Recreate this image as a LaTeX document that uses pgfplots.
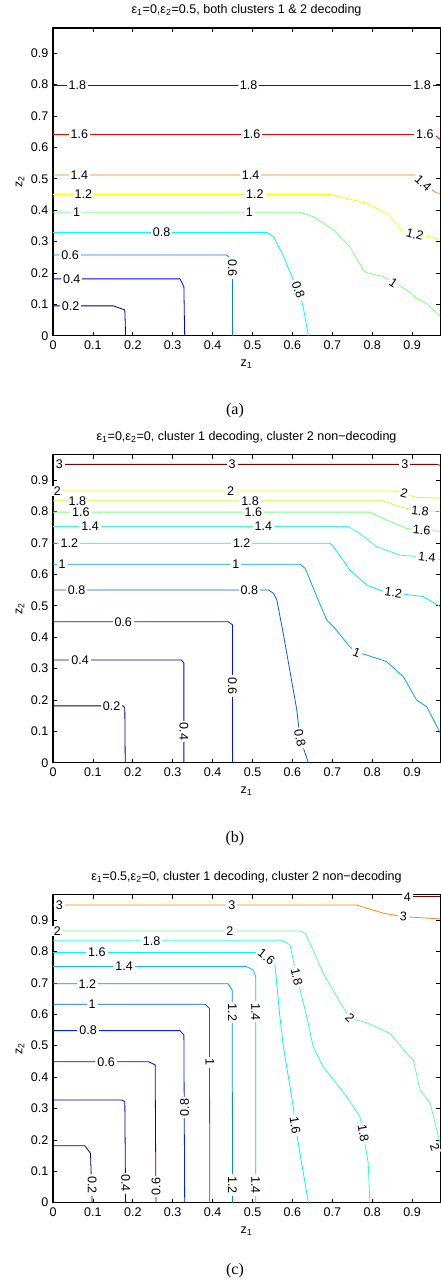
\documentclass[border=0pt]{standalone}
\usepackage{pgfplots}
\pgfplotsset{compat=1.18}
\usepackage{pgfplotstable}
\usepackage{fontspec}
\setmainfont{Liberation Sans}
\newfontfamily\capfont{Liberation Serif}
\newcommand\fs{\fontsize{9.4}{11}\selectfont}

% jet colours of the contour levels
% (a): levels 0.2..1.8
\definecolor{a02}{rgb}{0,0,0.5}
\definecolor{a04}{rgb}{0,0,1}
\definecolor{a06}{rgb}{0,0.5,1}
\definecolor{a08}{rgb}{0,1,1}
\definecolor{a10}{rgb}{0.5,1,0.5}
\definecolor{a12}{rgb}{1,1,0}
\definecolor{a14}{rgb}{1,0.5,0}
\definecolor{a16}{rgb}{1,0,0}
\definecolor{a18}{rgb}{0.5,0,0}
% (b): levels 0.2..2, 3
\definecolor{b02}{rgb}{0,0,0.5}
\definecolor{b04}{rgb}{0,0,0.79}
\definecolor{b06}{rgb}{0,0.07,1}
\definecolor{b08}{rgb}{0,0.36,1}
\definecolor{b10}{rgb}{0,0.64,1}
\definecolor{b12}{rgb}{0,0.93,1}
\definecolor{b14}{rgb}{0.21,1,0.79}
\definecolor{b16}{rgb}{0.5,1,0.5}
\definecolor{b18}{rgb}{0.79,1,0.21}
\definecolor{b20}{rgb}{1,0.93,0}
\definecolor{b30}{rgb}{0.5,0,0}
% (c): levels 0.2..2, 3, 4
\definecolor{c02}{rgb}{0,0,0.5}
\definecolor{c04}{rgb}{0,0,0.71}
\definecolor{c06}{rgb}{0,0,0.92}
\definecolor{c08}{rgb}{0,0.13,1}
\definecolor{c10}{rgb}{0,0.34,1}
\definecolor{c12}{rgb}{0,0.55,1}
\definecolor{c14}{rgb}{0,0.76,1}
\definecolor{c16}{rgb}{0,0.97,1}
\definecolor{c18}{rgb}{0.18,1,0.82}
\definecolor{c20}{rgb}{0.39,1,0.61}
\definecolor{c30}{rgb}{1,0.55,0}
\definecolor{c40}{rgb}{0.5,0,0}

% contour labels: x y angle text
\pgfplotstableread{
x y a t
0.061 0.798 0 1.8
0.490 0.798 0 1.8
0.925 0.798 0 1.8
0.066 0.641 0 1.6
0.498 0.641 0 1.6
0.932 0.641 0 1.6
0.066 0.512 0 1.4
0.495 0.512 0 1.4
0.928 0.486 -42 1.4
0.076 0.450 0 1.2
0.506 0.450 0 1.2
0.907 0.323 -15 1.2
0.059 0.393 0 1
0.492 0.393 0 1
0.853 0.167 -34 1
0.272 0.329 0 0.8
0.615 0.146 -70 0.8
0.043 0.257 0 0.6
0.450 0.215 -90 0.6
0.047 0.181 0 0.4
0.044 0.095 0 0.2
}\labA
\pgfplotstableread{
x y a t
0.016 0.950 0 3
0.449 0.950 0 3
0.882 0.950 0 3
0.011 0.865 0 2
0.445 0.865 0 2
0.880 0.857 -15 2
0.061 0.834 0 1.8
0.494 0.834 0 1.8
0.920 0.802 -5 1.8
0.070 0.798 0 1.6
0.502 0.798 0 1.6
0.924 0.741 -5 1.6
0.093 0.752 0 1.4
0.527 0.752 0 1.4
0.937 0.654 -6 1.4
0.041 0.699 0 1.2
0.473 0.699 0 1.2
0.853 0.541 -8 1.2
0.023 0.632 0 1
0.458 0.632 0 1
0.761 0.352 -20 1
0.059 0.550 0 0.8
0.492 0.550 0 0.8
0.619 0.078 -78 0.8
0.176 0.449 0 0.6
0.450 0.244 -90 0.6
0.068 0.327 0 0.4
0.328 0.099 -90 0.4
0.147 0.181 0 0.2
}\labB
\pgfplotstableread{
x y a t
0.888 0.972 0 4
0.016 0.948 0 3
0.448 0.948 0 3
0.878 0.911 -4 3
0.011 0.865 0 2
0.443 0.865 0 2
0.744 0.587 -45 2
0.957 0.175 -70 2
0.247 0.834 0 1.8
0.611 0.720 -77 1.8
0.778 0.221 -80 1.8
0.110 0.797 0 1.6
0.535 0.783 -38 1.6
0.607 0.247 -81 1.6
0.178 0.752 0 1.4
0.508 0.608 -90 1.4
0.508 0.056 -90 1.4
0.086 0.697 0 1.2
0.450 0.605 -90 1.2
0.450 0.056 -90 1.2
0.098 0.632 0 1
0.393 0.447 -90 1
0.088 0.548 0 0.8
0.330 0.303 90 0.8
0.133 0.449 0 0.6
0.258 0.051 90 0.6
0.182 0.062 -90 0.4
0.098 0.056 -90 0.2
}\labC

\pgfplotsset{
  cplot/.style={
    scale only axis, width=290.3pt, height=230.8pt,
    xmin=0, xmax=0.97, ymin=0, ymax=0.98,
    xtick={0,0.1,0.2,0.3,0.4,0.5,0.6,0.7,0.8,0.9},
    ytick={0,0.1,0.2,0.3,0.4,0.5,0.6,0.7,0.8,0.9},
    /pgf/number format/assume math mode=true,
    tick label style={font=\fs},
    label style={font=\fs},
    title style={font=\fs, yshift=-1pt},
    xlabel={z\textsubscript{1}}, ylabel={z\textsubscript{2}},
    xlabel style={yshift=-1pt},
    ylabel style={yshift=-2pt},
    major tick length=3pt,
    tick style={black, line width=0.5pt},
    axis line style={line width=0.8pt},
    every axis plot/.append style={line width=0.6pt},
  },
  lbl/.style={
    draw=none, mark=none, point meta=explicit symbolic,
    visualization depends on={\thisrow{a}\as\ang},
    nodes near coords,
    every node near coord/.append style={anchor=center, rotate=\ang,
      fill=white, inner xsep=1.5pt, inner ysep=0.3pt, font=\fs, text=black},
  },
}

\begin{document}
\begin{tikzpicture}
\useasboundingbox (-39.75pt,251.78pt) rectangle (291pt,-710.5pt);

% ---------------- (a) ----------------
\begin{axis}[cplot, at={(0pt,0pt)}, anchor=south west,
  title={ε\textsubscript{1}=0,ε\textsubscript{2}=0.5, both clusters 1 \& 2 decoding}]
\addplot[a18] coordinates {(0,0.798) (0.98,0.798)};
\addplot[a16] coordinates {(0,0.641) (0.955,0.641) (0.98,0.615)};
\addplot[a14] coordinates {(0,0.512) (0.91,0.512) (0.935,0.48) (0.96,0.455) (0.98,0.452)};
\addplot[a12] coordinates {(0,0.450) (0.694,0.450) (0.785,0.422) (0.836,0.390) (0.861,0.358) (0.874,0.331) (0.907,0.323) (0.945,0.315) (0.98,0.30)};
\addplot[a10] coordinates {(0,0.393) (0.62,0.393) (0.652,0.379) (0.703,0.337) (0.744,0.283) (0.778,0.209) (0.786,0.201) (0.828,0.188) (0.886,0.146) (0.911,0.119) (0.936,0.103) (0.98,0.05)};
\addplot[a08] coordinates {(0,0.329) (0.536,0.329) (0.553,0.315) (0.578,0.252) (0.602,0.177) (0.615,0.146) (0.627,0.092) (0.640,0)};
\addplot[a06] coordinates {(0,0.257) (0.435,0.257) (0.45,0.241) (0.45,0)};
\addplot[a04] coordinates {(0,0.181) (0.318,0.181) (0.328,0.156) (0.33,0)};
\addplot[a02] coordinates {(0,0.095) (0.151,0.095) (0.18,0.082) (0.182,0)};
\addplot[lbl] table[meta=t] {\labA};
\coordinate (capa) at (axis cs:0.456,0);
\end{axis}
\node[font=\capfont\fontsize{12}{14}\selectfont] at ([yshift=-56.5pt]capa) {(a)};

% ---------------- (b) ----------------
\begin{axis}[cplot, at={(0pt,-320.25pt)}, anchor=south west,
  title={ε\textsubscript{1}=0,ε\textsubscript{2}=0, cluster 1 decoding, cluster 2 non−decoding}]
\addplot[b30] coordinates {(0,0.950) (0.96,0.950) (0.98,0.945)};
\addplot[b20] coordinates {(0,0.865) (0.861,0.865) (0.882,0.856) (0.911,0.845) (0.98,0.842)};
\addplot[b18] coordinates {(0,0.834) (0.828,0.834) (0.870,0.815) (0.895,0.807) (0.92,0.802) (0.98,0.80)};
\addplot[b16] coordinates {(0,0.798) (0.794,0.798) (0.836,0.773) (0.886,0.746) (0.924,0.741) (0.98,0.736)};
\addplot[b14] coordinates {(0,0.752) (0.74,0.752) (0.769,0.730) (0.811,0.688) (0.87,0.661) (0.937,0.654) (0.98,0.646)};
\addplot[b12] coordinates {(0,0.699) (0.694,0.699) (0.703,0.688) (0.744,0.614) (0.786,0.566) (0.828,0.545) (0.853,0.541) (0.928,0.529) (0.98,0.49)};
\addplot[b10] coordinates {(0,0.632) (0.619,0.632) (0.632,0.619) (0.661,0.529) (0.686,0.454) (0.703,0.433) (0.744,0.369) (0.761,0.352) (0.786,0.343) (0.836,0.322) (0.878,0.274) (0.911,0.200) (0.937,0.178) (0.98,0.07)};
\addplot[b08] coordinates {(0,0.550) (0.540,0.550) (0.553,0.539) (0.561,0.518) (0.577,0.412) (0.611,0.168) (0.619,0.078) (0.640,0)};
\addplot[b06] coordinates {(0,0.449) (0.439,0.449) (0.45,0.439) (0.45,0)};
\addplot[b04] coordinates {(0,0.327) (0.322,0.327) (0.328,0.317) (0.328,0)};
\addplot[b02] coordinates {(0,0.181) (0.176,0.181) (0.18,0.173) (0.181,0)};
\addplot[lbl] table[meta=t] {\labB};
\coordinate (capb) at (axis cs:0.456,0);
\end{axis}
\node[font=\capfont\fontsize{12}{14}\selectfont] at ([yshift=-57pt]capb) {(b)};

% ---------------- (c) ----------------
\begin{axis}[cplot, at={(0pt,-650.25pt)}, anchor=south west,
  title={ε\textsubscript{1}=0.5,ε\textsubscript{2}=0, cluster 1 decoding, cluster 2 non−decoding}]
\addplot[c40] coordinates {(0.895,0.977) (0.98,0.977)};
\addplot[c30] coordinates {(0,0.948) (0.761,0.948) (0.786,0.938) (0.828,0.922) (0.878,0.911) (0.98,0.903)};
\addplot[c20] coordinates {(0,0.865) (0.619,0.865) (0.632,0.858) (0.652,0.805) (0.677,0.731) (0.711,0.656) (0.744,0.587) (0.786,0.573) (0.845,0.539) (0.886,0.476) (0.903,0.454) (0.920,0.359) (0.945,0.317) (0.98,0.14)};
\addplot[c18] coordinates {(0,0.834) (0.577,0.834) (0.594,0.821) (0.611,0.720) (0.636,0.592) (0.652,0.497) (0.677,0.433) (0.736,0.338) (0.769,0.274) (0.778,0.221) (0.790,0.125) (0.794,0)};
\addplot[c16] coordinates {(0,0.797) (0.510,0.797) (0.535,0.783) (0.556,0.762) (0.568,0.6) (0.577,0.5) (0.602,0.306) (0.607,0.247) (0.640,0)};
\addplot[c14] coordinates {(0,0.752) (0.485,0.752) (0.502,0.741) (0.508,0.72) (0.508,0)};
\addplot[c12] coordinates {(0,0.697) (0.439,0.697) (0.449,0.677) (0.45,0)};
\addplot[c10] coordinates {(0,0.632) (0.381,0.632) (0.392,0.619) (0.393,0)};
\addplot[c08] coordinates {(0,0.548) (0.318,0.548) (0.328,0.534) (0.330,0)};
\addplot[c06] coordinates {(0,0.449) (0.239,0.449) (0.256,0.439) (0.258,0)};
\addplot[c04] coordinates {(0,0.327) (0.172,0.327) (0.180,0.322) (0.182,0)};
\addplot[c02] coordinates {(0,0.181) (0.080,0.181) (0.094,0.157) (0.098,0)};
\addplot[lbl] table[meta=t] {\labC};
\coordinate (capc) at (axis cs:0.456,0);
\end{axis}
\node[font=\capfont\fontsize{12}{14}\selectfont] at ([yshift=-51pt]capc) {(c)};
\end{tikzpicture}
\end{document}
